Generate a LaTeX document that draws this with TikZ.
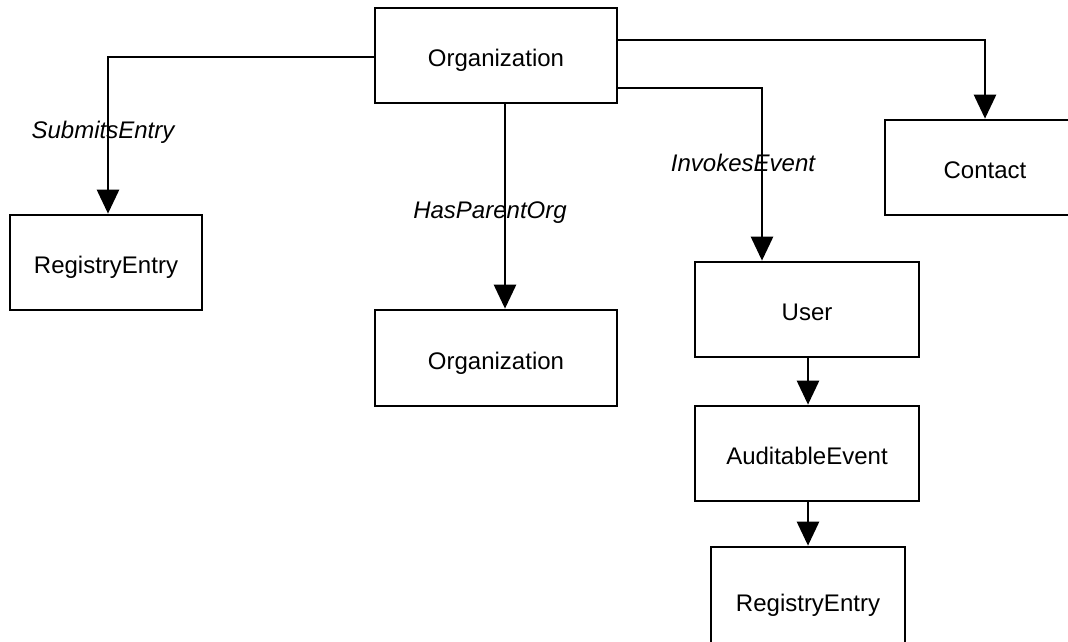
\documentclass[tikz,border=0pt]{standalone}
\usepackage{fontspec}
\setmainfont{Liberation Sans}
\usetikzlibrary{arrows.meta}
\begin{document}
\begin{tikzpicture}[x=1pt,y=-1pt,
  box/.style={draw,line width=2.7pt,minimum width=#1,inner sep=0pt,text height=26pt,text depth=4pt,font=\fontsize{24}{28}\selectfont},
  conn/.style={line width=2.7pt,-{Triangle[width=22pt,length=24pt]}},
  lbl/.style={font=\fontsize{24}{28}\selectfont\itshape,inner sep=0pt}]
\useasboundingbox (0,0) rectangle (1068,642);
\clip (0,0) rectangle (1068,642);
\node[box=242pt,minimum height=95pt] (org) at (496,55.5) {Organization};
\node[box=192pt,minimum height=95pt] (re1) at (106,262.5) {RegistryEntry};
\node[box=242pt,minimum height=96pt] (org2) at (496,358) {Organization};
\node[box=200pt,minimum height=95pt] (contact) at (985,167.5) {Contact};
\node[box=224pt,minimum height=95pt] (user) at (807,309.5) {User};
\node[box=224pt,minimum height=95pt] (audit) at (807,453.5) {AuditableEvent};
\node[box=194pt,minimum height=106pt] (re2) at (808,600) {RegistryEntry};
\draw[conn] (org.west |- 0,57) -| (re1.north -| 108,0);
\draw[conn] (org.south -| 505,0) -- (org2.north -| 505,0);
\draw[conn] (org.east |- 0,88) -| (user.north -| 762,0);
\draw[conn] (org.east |- 0,40) -| (contact.north);
\draw[conn] (user.south -| 808,0) -- (audit.north -| 808,0);
\draw[conn] (audit.south -| 808,0) -- (re2.north -| 808,0);
\node[lbl] (l1) at (103,132) {SubmitsEntry};
\node[lbl] (l2) at (490,213) {HasParentOrg};
\node[lbl] (l3) at (743,163) {InvokesEvent};
\end{tikzpicture}
\end{document}
